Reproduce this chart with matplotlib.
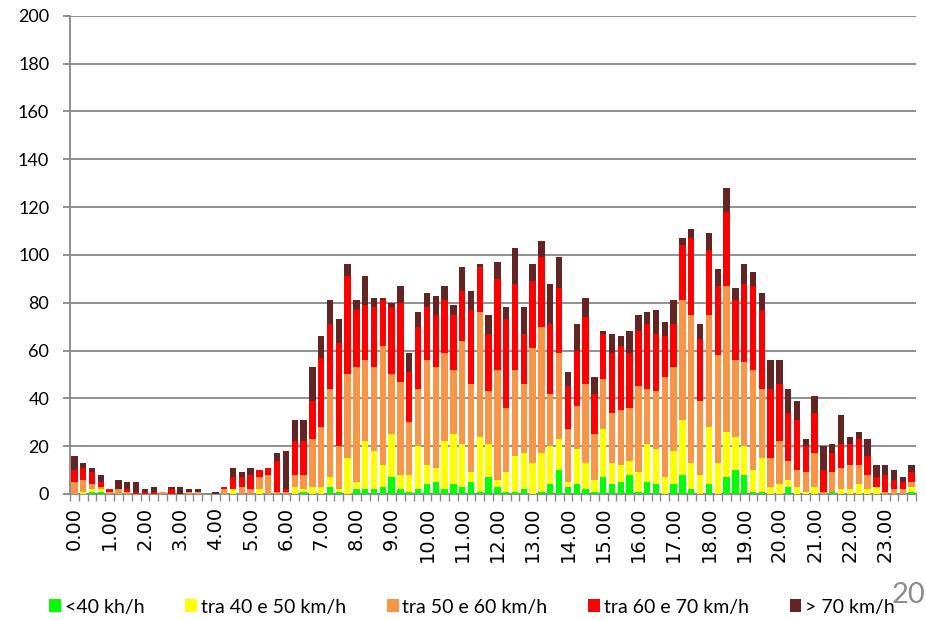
import matplotlib
matplotlib.use("Agg")
import matplotlib.pyplot as plt
from matplotlib.patches import Patch
import numpy as np

# 15-minute intervals, 96 bars
green = [0,0,1,1,0,0,0,0,0,0,0,0,0,0,0,0,0,0,0,0,0,0,0,0,
         0,0,1,0,0,3,1,0,2,2,2,3,7,2,1,2,4,5,2,4,3,5,1,7,
         3,1,1,2,0,1,4,10,3,4,2,1,7,4,5,8,1,5,4,0,4,8,2,0,
         4,0,7,10,8,1,1,0,0,3,0,0,0,0,1,0,0,0,0,0,0,0,0,1]
yellow = [0,1,1,1,0,0,0,0,0,0,0,0,0,0,0,0,0,0,2,0,0,2,0,0,
          0,3,1,3,3,4,1,15,3,20,16,9,18,6,7,18,8,6,20,21,18,4,23,14,
          3,8,15,15,13,16,16,13,2,15,11,5,20,9,7,6,8,16,15,7,14,23,11,8,
          24,13,19,14,12,9,14,3,4,3,3,1,3,0,0,2,2,4,2,3,0,0,0,2]
orange = [5,5,2,1,1,2,1,0,0,0,1,0,0,1,1,0,0,2,0,3,2,5,8,1,
          1,5,6,20,25,37,18,35,48,34,35,50,25,39,22,24,44,42,37,27,43,37,52,22,
          46,27,36,29,48,53,22,36,22,18,33,19,21,21,23,22,36,23,24,42,35,50,62,31,
          47,45,61,32,35,42,29,12,18,8,7,8,14,1,8,9,10,8,6,0,1,2,2,2]
red = [5,5,5,2,1,0,1,1,1,1,0,2,0,0,0,0,0,1,5,4,6,3,3,13,
       1,14,14,16,29,27,43,41,24,23,25,19,28,33,21,26,22,22,22,23,21,31,19,24,
       38,37,36,21,28,29,29,27,18,23,28,17,19,25,27,23,23,27,24,17,18,23,32,26,
       27,29,31,25,33,35,33,29,24,20,21,11,17,9,8,10,9,11,8,4,7,4,3,4]
dark = [6,2,2,3,0,4,3,4,1,2,0,1,3,1,1,0,1,0,4,2,3,0,0,3,
        16,9,9,14,9,10,10,5,4,12,4,1,2,7,8,6,6,8,6,4,10,8,1,8,
        7,5,15,11,7,7,17,13,6,11,8,7,1,8,4,9,7,5,10,6,10,3,4,6,
        7,7,10,5,8,6,7,12,10,10,8,3,7,10,4,12,3,3,7,5,4,4,2,3]

hour_labels = [f"{h}.00" for h in range(24)]
series_names = ["<40 kh/h", "tra 40 e 50 km/h", "tra 50 e 60 km/h",
                "tra 60 e 70 km/h", "> 70 km/h"]
colors = ["#00FF00", "#FFFF00", "#F79646", "#FF0000", "#632523"]

plt.rcParams['font.family'] = ['Lato', 'DejaVu Sans']

fig = plt.figure(figsize=(9.26, 6.2), dpi=100)
ax = fig.add_axes([70/926, 1-494/620, 846/926, (494-15.7)/620])

x = np.arange(len(green))
bottom = np.zeros(len(green))
handles = []
for vals, c, name in zip([green, yellow, orange, red, dark], colors, series_names):
    v = np.array(vals, dtype=float)
    ax.bar(x, v, bottom=bottom, width=0.72, color=c, edgecolor='none', label=name, zorder=3)
    bottom += v
    handles.append(Patch(facecolor=c, edgecolor='none', label=name))

gray = "#878787"
ax.set_xlim(-0.5, len(green) - 0.5)
ax.set_ylim(0, 200)
ax.set_yticks(range(0, 201, 20))
ax.yaxis.grid(True, color=gray, linewidth=1.3, zorder=0)
ax.set_axisbelow(True)
for s in ['top', 'right']:
    ax.spines[s].set_visible(False)
for s in ['left', 'bottom']:
    ax.spines[s].set_color(gray)
    ax.spines[s].set_linewidth(1.3)

ax.tick_params(axis='y', length=5, width=1.3, color=gray, pad=10, labelsize=13)
ax.set_xticks(np.arange(0, 96, 4))
ax.set_xticklabels(hour_labels, rotation=90, fontsize=14, family='DejaVu Sans', va='top')
ax.tick_params(axis='x', which='major', length=0, pad=9)
ax.set_xticks(np.arange(-0.5, 96, 1), minor=True)
ax.tick_params(axis='x', which='minor', length=5, width=1, color=gray)

fig.legend(handles=handles, loc='center', bbox_to_anchor=(0.51, 1 - 607/620),
           ncol=5, frameon=False, fontsize=14, handlelength=0.6, handleheight=0.6,
           handletextpad=0.2, columnspacing=2.1, borderpad=0, borderaxespad=0)

fig.text(925/926, 1-595/620, "20", ha='right', va='center', fontsize=21, color="#8C8C8C")

fig.savefig("out.png", dpi=100)
